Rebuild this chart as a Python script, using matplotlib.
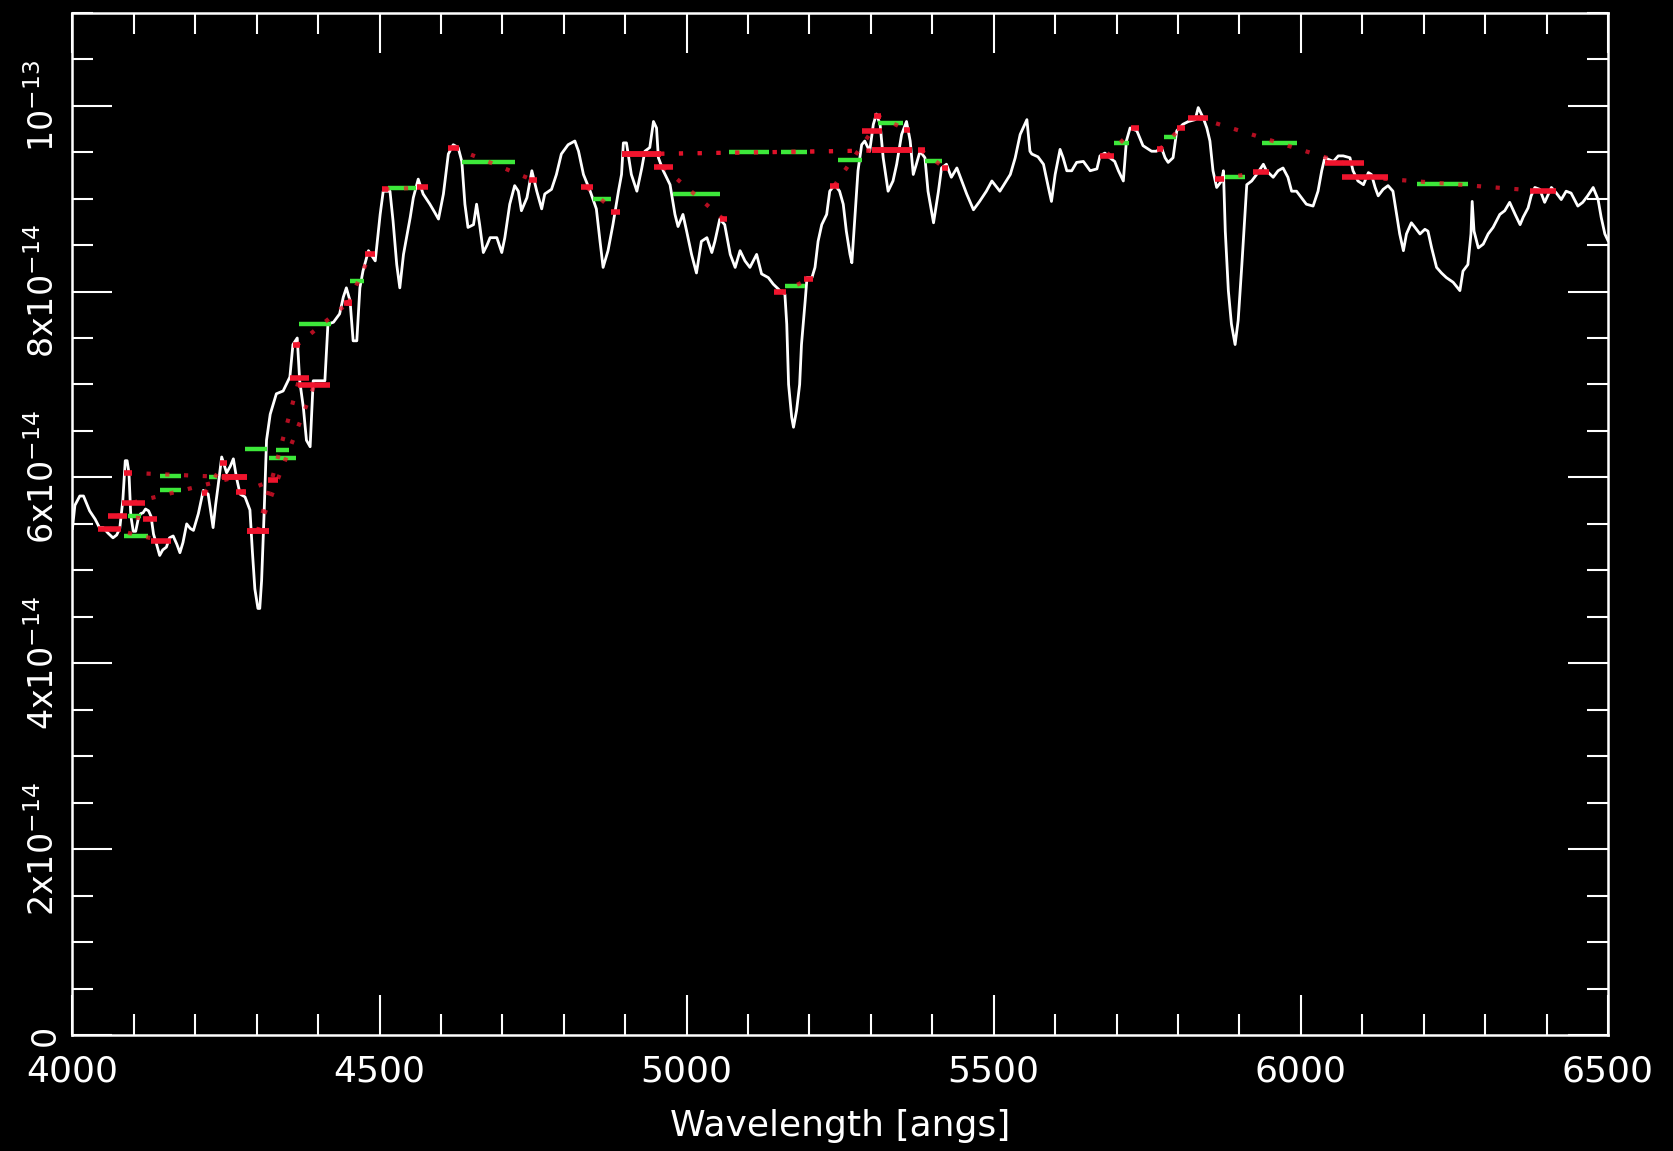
"""Spectrum with Lick index bands (IDL-style black plot)."""
import matplotlib
matplotlib.use('Agg')
import matplotlib.pyplot as plt
from matplotlib.ticker import MultipleLocator

# spectrum, flux in units of 1e-14
wl = [4000, 4004, 4012, 4018, 4028, 4037, 4044, 4050, 4058, 4066, 4072, 4077, 4082, 4086, 4089, 4092,
      4095, 4099, 4103, 4107, 4111, 4115, 4119, 4124, 4128, 4132, 4137, 4142, 4147, 4153, 4158, 4164,
      4170, 4175, 4180, 4186, 4192, 4197, 4205, 4213, 4221, 4226, 4229, 4233, 4237, 4243, 4251, 4257,
      4262, 4267, 4273, 4281, 4289, 4293, 4297, 4302, 4305, 4308, 4312, 4316, 4322, 4332, 4343, 4354,
      4359, 4366, 4370, 4376, 4381, 4387, 4392, 4403, 4411, 4416, 4425, 4435, 4441, 4446, 4452, 4457,
      4463, 4468, 4473, 4482, 4493, 4501, 4506, 4517, 4522, 4528, 4533, 4539, 4544, 4550, 4555, 4563,
      4571, 4582, 4590, 4596, 4604, 4612, 4620, 4628, 4634, 4639, 4644, 4653, 4658, 4663, 4669, 4675,
      4680, 4691, 4699, 4704, 4712, 4720, 4726, 4731, 4740, 4748, 4756, 4764, 4769, 4780, 4788, 4796,
      4807, 4818, 4824, 4832, 4843, 4853, 4859, 4864, 4872, 4880, 4889, 4894, 4897, 4902, 4910, 4919,
      4927, 4932, 4940, 4946, 4951, 4954, 4962, 4973, 4981, 4986, 4994, 5000, 5008, 5016, 5024, 5033,
      5041, 5046, 5054, 5062, 5071, 5079, 5087, 5095, 5103, 5114, 5122, 5133, 5141, 5152, 5160, 5163,
      5166, 5171, 5174, 5179, 5184, 5187, 5193, 5196, 5204, 5209, 5214, 5220, 5228, 5233, 5241, 5249,
      5255, 5260, 5266, 5269, 5274, 5279, 5285, 5290, 5298, 5304, 5309, 5315, 5320, 5328, 5336, 5342,
      5350, 5358, 5364, 5369, 5374, 5380, 5388, 5393, 5402, 5410, 5415, 5423, 5431, 5440, 5448, 5456,
      5467, 5477, 5488, 5497, 5510, 5527, 5535, 5543, 5554, 5559, 5562, 5572, 5581, 5589, 5594, 5600,
      5608, 5613, 5619, 5627, 5635, 5646, 5657, 5668, 5673, 5681, 5689, 5697, 5703, 5711, 5716, 5722,
      5733, 5743, 5757, 5765, 5773, 5779, 5784, 5792, 5798, 5808, 5817, 5828, 5833, 5841, 5847, 5852,
      5857, 5863, 5871, 5874, 5877, 5882, 5887, 5893, 5898, 5904, 5909, 5912, 5920, 5928, 5939, 5944,
      5955, 5963, 5971, 5979, 5985, 5993, 6001, 6009, 6020, 6028, 6034, 6039, 6053, 6061, 6069, 6080,
      6085, 6093, 6102, 6110, 6115, 6121, 6126, 6134, 6142, 6150, 6156, 6161, 6167, 6172, 6180, 6186,
      6194, 6202, 6207, 6213, 6221, 6229, 6237, 6248, 6259, 6264, 6272, 6277, 6279, 6282, 6289, 6297,
      6305, 6313, 6324, 6332, 6340, 6349, 6357, 6362, 6370, 6375, 6381, 6389, 6397, 6408, 6416, 6424,
      6432, 6440, 6451, 6459, 6467, 6476, 6484, 6489, 6495, 6500]
flux = [5.45, 5.70, 5.80, 5.80, 5.64, 5.55, 5.46, 5.46, 5.40, 5.35, 5.38, 5.45, 5.75, 6.18, 6.18, 6.05,
        5.59, 5.42, 5.42, 5.55, 5.61, 5.62, 5.66, 5.64, 5.58, 5.39, 5.28, 5.16, 5.22, 5.25, 5.35, 5.37,
        5.28, 5.19, 5.30, 5.50, 5.45, 5.43, 5.61, 5.86, 5.82, 5.60, 5.46, 5.70, 5.90, 6.22, 6.05, 6.12,
        6.20, 6.00, 5.82, 5.79, 5.65, 5.20, 4.80, 4.59, 4.59, 4.89, 5.60, 6.40, 6.68, 6.90, 6.93, 7.08,
        7.43, 7.50, 7.04, 6.75, 6.40, 6.33, 7.04, 7.04, 7.04, 7.65, 7.67, 7.76, 7.94, 8.04, 7.90, 7.47,
        7.47, 8.04, 8.22, 8.44, 8.33, 8.83, 9.08, 9.08, 8.76, 8.29, 8.04, 8.40, 8.58, 8.80, 9.01, 9.21,
        9.05, 8.94, 8.85, 8.78, 9.05, 9.48, 9.58, 9.55, 9.40, 8.94, 8.69, 8.72, 8.94, 8.72, 8.42, 8.50,
        8.58, 8.58, 8.42, 8.58, 8.94, 9.14, 9.08, 8.87, 9.01, 9.30, 9.08, 8.89, 9.05, 9.10, 9.26, 9.48,
        9.58, 9.62, 9.51, 9.26, 9.08, 8.89, 8.54, 8.26, 8.44, 8.72, 9.08, 9.26, 9.60, 9.60, 9.26, 9.08,
        9.33, 9.51, 9.55, 9.83, 9.76, 9.44, 9.30, 9.15, 8.83, 8.70, 8.83, 8.65, 8.40, 8.20, 8.54, 8.58,
        8.42, 8.54, 8.78, 8.72, 8.40, 8.26, 8.44, 8.33, 8.26, 8.40, 8.19, 8.15, 8.08, 8.01, 7.97, 7.65,
        7.00, 6.65, 6.54, 6.72, 7.00, 7.43, 7.90, 8.15, 8.15, 8.26, 8.54, 8.72, 8.83, 9.08, 9.15, 9.08,
        8.94, 8.65, 8.40, 8.31, 8.80, 9.30, 9.58, 9.62, 9.51, 9.80, 9.91, 9.80, 9.44, 9.08, 9.19, 9.37,
        9.69, 9.83, 9.62, 9.26, 9.37, 9.51, 9.44, 9.08, 8.74, 9.08, 9.33, 9.37, 9.23, 9.33, 9.19, 9.05,
        8.88, 8.97, 9.08, 9.19, 9.08, 9.26, 9.44, 9.69, 9.85, 9.51, 9.48, 9.45, 9.37, 9.12, 8.97, 9.26,
        9.53, 9.44, 9.30, 9.30, 9.39, 9.40, 9.30, 9.32, 9.46, 9.49, 9.44, 9.40, 9.30, 9.19, 9.62, 9.76,
        9.73, 9.57, 9.51, 9.51, 9.55, 9.44, 9.39, 9.44, 9.73, 9.80, 9.83, 9.85, 9.98, 9.87, 9.76, 9.62,
        9.30, 9.12, 9.19, 9.30, 8.65, 8.01, 7.65, 7.43, 7.69, 8.29, 8.83, 9.15, 9.19, 9.26, 9.37, 9.30,
        9.23, 9.30, 9.33, 9.23, 9.08, 9.08, 9.01, 8.94, 8.92, 9.08, 9.30, 9.44, 9.40, 9.46, 9.46, 9.44,
        9.30, 9.19, 9.15, 9.28, 9.26, 9.12, 9.03, 9.10, 9.14, 9.08, 8.83, 8.62, 8.44, 8.62, 8.74, 8.69,
        8.62, 8.67, 8.65, 8.47, 8.26, 8.20, 8.15, 8.10, 8.01, 8.22, 8.29, 8.62, 8.97, 8.65, 8.47, 8.51,
        8.62, 8.69, 8.83, 8.87, 8.96, 8.83, 8.72, 8.80, 8.90, 9.03, 9.12, 9.10, 8.96, 9.12, 9.06, 8.99,
        9.08, 9.06, 8.92, 8.96, 9.03, 9.12, 8.99, 8.80, 8.62, 8.55]

# Lick index bands: blue sideband, central band, red sideband
index_names = ['HdeltaA', 'HdeltaF', 'CN1', 'CN2', 'Ca4227', 'G4300', 'HgammaA', 'HgammaF',
               'Fe4383', 'Ca4455', 'Fe4531', 'C4668', 'Hbeta', 'Fe5015', 'Mg1', 'Mg2', 'Mgb',
               'Fe5270', 'Fe5335', 'Fe5406', 'Fe5709', 'Fe5782', 'NaD', 'TiO1', 'TiO2']
blue_lo = [4041.6, 4057.25, 4080.125, 4083.875, 4211.0, 4266.375, 4283.5, 4283.5, 4359.125,
           4445.125, 4504.25, 4611.375, 4827.875, 4946.375, 4895.125, 4895.125, 5142.625,
           5233.15, 5304.875, 5376.25, 5672.875, 5765.375, 5860.625, 5816.625, 6066.625]
blue_hi = [4079.75, 4088.5, 4117.625, 4096.375, 4219.75, 4282.625, 4319.75, 4319.75, 4370.375,
           4454.375, 4514.25, 4630.125, 4847.875, 4977.125, 4957.625, 4957.625, 5161.375,
           5248.15, 5315.875, 5387.5, 5696.625, 5775.375, 5875.625, 5849.125, 6141.625]
blue_flux = [5.45, 5.59, 5.73, 6.05, 5.83, 5.84, 5.42, 5.42, 7.42, 7.88, 9.10, 9.55, 9.12,
             9.34, 9.48, 9.48, 7.99, 9.14, 9.89, 9.52, 9.46, 9.53, 9.21, 9.87, 9.23]
cen_lo = [4083.5, 4091.0, 4142.125, 4142.125, 4222.25, 4281.375, 4319.75, 4331.25, 4369.125,
          4452.125, 4514.25, 4634.0, 4847.875, 4977.125, 5069.125, 5154.125, 5160.125,
          5245.65, 5312.125, 5387.5, 5696.625, 5776.625, 5876.875, 5936.625, 6189.625]
cen_hi = [4122.25, 4112.25, 4177.125, 4177.125, 4234.75, 4316.375, 4363.5, 4352.25, 4420.375,
          4474.625, 4559.25, 4720.25, 4876.625, 5054.0, 5134.125, 5196.625, 5192.625,
          5285.65, 5352.125, 5415.0, 5720.375, 5796.625, 5909.375, 5994.125, 6272.125]
cen_flux = [5.37, 5.58, 5.86, 6.02, 6.00, 6.31, 6.21, 6.30, 7.65, 8.11, 9.11, 9.39, 9.00,
            9.05, 9.50, 9.50, 8.06, 9.42, 9.81, 9.41, 9.60, 9.66, 9.23, 9.60, 9.16]
red_lo = [4128.5, 4114.75, 4244.125, 4244.125, 4241.0, 4318.875, 4367.25, 4354.75, 4442.875,
          4477.125, 4560.5, 4742.75, 4876.625, 5054.0, 5301.125, 5301.125, 5191.375,
          5285.65, 5353.375, 5415.0, 5722.875, 5797.875, 5922.125, 6038.625, 6372.625]
red_hi = [4161.0, 4137.25, 4284.125, 4284.125, 4251.0, 4335.125, 4419.75, 4384.75, 4455.375,
          4492.125, 4579.25, 4756.5, 4891.625, 5065.25, 5366.125, 5366.125, 5206.375,
          5318.15, 5363.375, 5425.0, 5736.625, 5811.375, 5948.125, 6103.625, 6415.125]
red_flux = [5.32, 5.55, 6.00, 6.00, 6.15, 5.97, 6.99, 7.07, 7.88, 8.40, 9.12, 9.20, 8.86,
            8.78, 9.52, 9.52, 8.13, 9.73, 9.74, 9.33, 9.76, 9.76, 9.29, 9.38, 9.08]

ytick_vals = [0, 2, 4, 6, 8, 10]
ytick_labels = ['0', '2x10$^{-14}$', '4x10$^{-14}$', '6x10$^{-14}$', '8x10$^{-14}$', '10$^{-13}$']
xtick_vals = [4000, 4500, 5000, 5500, 6000, 6500]

RED = '#f0142d'
GREEN = '#3de83a'

fig = plt.figure(figsize=(16.73, 11.51), dpi=100, facecolor='black')
ax = fig.add_axes([0.0433, 0.1008, 0.9178, 0.8881], facecolor='black')

ax.plot(wl, flux, color='white', lw=2.0, zorder=2)

for i in range(len(index_names)):
    bmid = 0.5 * (blue_lo[i] + blue_hi[i])
    rmid = 0.5 * (red_lo[i] + red_hi[i])
    ax.hlines(cen_flux[i], cen_lo[i], cen_hi[i], color=GREEN, lw=3.2, zorder=3)
    ax.plot([bmid, rmid], [blue_flux[i], red_flux[i]], color=RED, lw=3,
            ls=(0, (1, 3.5)), alpha=0.75, zorder=4)
    ax.hlines(blue_flux[i], blue_lo[i], blue_hi[i], color=RED, lw=4, zorder=5)
    ax.hlines(red_flux[i], red_lo[i], red_hi[i], color=RED, lw=4, zorder=5)

ax.set_xlim(4000, 6500)
ax.set_ylim(0, 11)
ax.set_xticks(xtick_vals)
ax.set_xticklabels([str(v) for v in xtick_vals])
ax.set_yticks(ytick_vals)
ax.set_yticklabels(ytick_labels, rotation=90, va='center')
ax.xaxis.set_minor_locator(MultipleLocator(100))
ax.yaxis.set_minor_locator(MultipleLocator(0.5))

for sp in ax.spines.values():
    sp.set_color('white')
    sp.set_linewidth(1.8)

ax.tick_params(which='both', direction='in', top=True, right=True, colors='white', width=1.5)
ax.tick_params(which='major', length=29)
ax.tick_params(which='minor', length=15)
ax.tick_params(axis='x', which='major', labelsize=26, pad=14)
ax.tick_params(axis='y', which='major', labelsize=24, pad=8)

ax.set_xlabel('Wavelength [angs]', color='white', fontsize=26, labelpad=15)

fig.savefig('out.png', dpi=100, facecolor='black')
print('Saved out.png')
